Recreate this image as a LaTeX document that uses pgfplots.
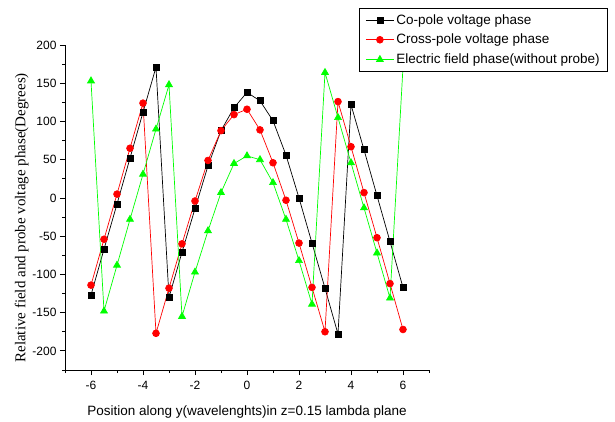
\documentclass[border=0pt]{standalone}
\usepackage{fontspec}
\setmainfont{Liberation Sans}
\newfontfamily\serifx{Liberation Serif}
\usepackage{pgfplots}
\pgfplotsset{compat=1.18}
\definecolor{lgreen}{RGB}{0,255,0}
\definecolor{lred}{RGB}{255,0,0}
\begin{document}
\begin{tikzpicture}[x=1pt,y=1pt]
\useasboundingbox (0,0) rectangle (615,421);
\begin{axis}[
  at={(65pt,51pt)}, anchor=south west,
  scale only axis, width=364pt, height=325pt,
  xmin=-7, xmax=7, ymin=-225, ymax=200,
  axis lines=left, axis line style={-, line width=0.8pt},
  tick align=outside,
  major tick length=5pt, minor tick length=3pt,
  tick style={black, line width=0.8pt},
  xtick={-6,-4,...,6}, minor xtick={-7,-5,...,7},
  ytick={-200,-150,...,200}, minor ytick={-225,-175,...,175},
  /pgf/number format/assume math mode=true,
  ticklabel style={font=\fontsize{12}{14}\selectfont},
  xticklabel style={yshift=-3pt},
  xlabel={Position along y(wavelenghts)in z=0.15 lambda plane},
  xlabel style={font=\fontsize{13.5}{15}\selectfont, yshift=-9pt},
  ylabel={Relative field and probe voltage phase(Degrees)},
  ylabel style={font=\serifx\fontsize{15}{17}\selectfont, at={(ticklabel cs:0.468)}, yshift=-3pt},
  legend style={at={(1.4918,1.114)}, anchor=north east, draw=black, line width=0.8pt,
    font=\fontsize{13.5}{15}\selectfont, fill=white, inner xsep=6pt, inner ysep=4pt, row sep=4.5pt,
    cells={anchor=west}},
  legend image code/.code={\draw[mark repeat=2,mark phase=2] plot coordinates {(0pt,0pt)(14pt,0pt)(28pt,0pt)};},
  every axis plot/.append style={line width=0.7pt},
]
\addplot[black, mark=square*, mark size=3pt, mark options={solid}] coordinates {
(-6,-127) (-5.5,-67) (-5,-8) (-4.5,52) (-4,112) (-3.5,171) (-3,-130) (-2.5,-71) (-2,-14) (-1.5,42) (-1,88) (-0.5,118) (0,138) (0.5,127) (1,101) (1.5,56) (2,0) (2.5,-59) (3,-118) (3.5,-178) (4,122) (4.5,63) (5,3) (5.5,-57) (6,-117)};
\addlegendentry{Co-pole voltage phase}
\addplot[lred, mark=*, mark size=3.4pt, mark options={solid}] coordinates {
(-6,-114) (-5.5,-54) (-5,5) (-4.5,65) (-4,124) (-3.5,-177) (-3,-118) (-2.5,-60) (-2,-4) (-1.5,49) (-1,88) (-0.5,109) (0,116) (0.5,89) (1,46) (1.5,-3) (2,-59) (2.5,-117) (3,-175) (3.5,126) (4,67) (4.5,7) (5,-52) (5.5,-112) (6,-172)};
\addlegendentry{Cross-pole voltage phase}
\addplot[lgreen, mark=triangle*, mark size=4pt, mark options={solid}] coordinates {
(-6,153) (-5.5,-148) (-5,-88) (-4.5,-28) (-4,31) (-3.5,90) (-3,148) (-2.5,-155) (-2,-97) (-1.5,-43) (-1,7) (-0.5,45) (0,55) (0.5,50) (1,20) (1.5,-28) (2,-82) (2.5,-139) (3,164) (3.5,105) (4,46) (4.5,-13) (5,-72) (5.5,-131) (6,171)};
\addlegendentry{Electric field phase(without probe)}
\end{axis}
\end{tikzpicture}
\end{document}
